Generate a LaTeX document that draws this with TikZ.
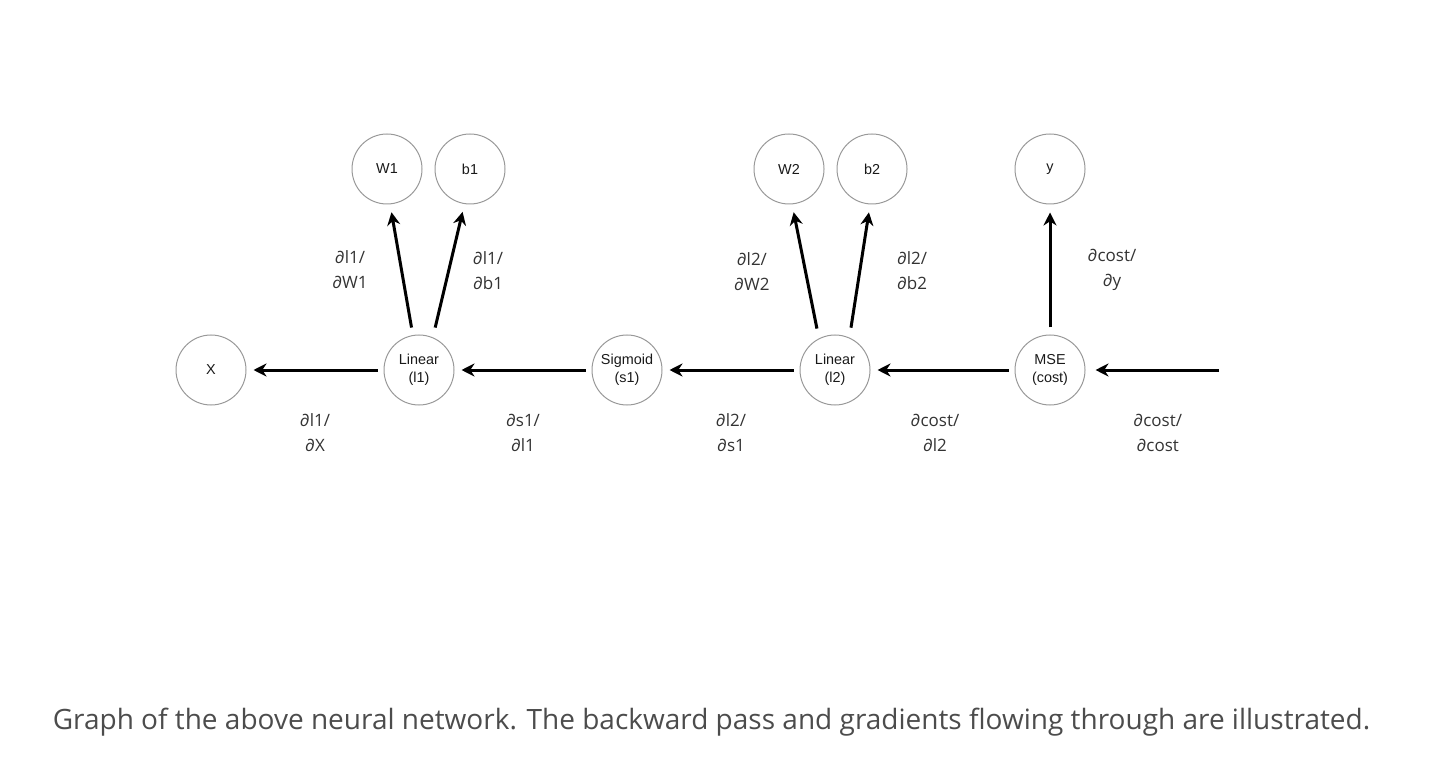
\documentclass[tikz,border=0pt]{standalone}
\usepackage{fontspec}
\setmainfont{Open Sans}
\newfontfamily\helv{Liberation Sans}
\usetikzlibrary{arrows.meta,positioning}

\begin{document}
\begin{tikzpicture}[x=0.5pt,y=-0.5pt,node distance=104pt,on grid,
  op/.style={circle,draw=black!40,line width=0.5pt,minimum size=35pt,inner sep=0pt,align=center,text=black!90,font=\helv\fontsize{7.2}{9}\selectfont},
  back/.style={-{Stealth[length=6.5pt,width=6.5pt]},line width=1.5pt,shorten <=3pt,shorten >=3.5pt},
  up/.style={shorten <=5pt,shorten >=4pt},
  grad/.style={align=center,text=black!80,font=\fontsize{8.5}{12.5}\selectfont}]
\useasboundingbox (0,0) rectangle (1444,780);
\node[op] (X) at (211,370) {X};
\node[op] (l1) [right=of X] {Linear\\(l1)};
\node[op] (s1) [right=of l1] {Sigmoid\\(s1)};
\node[op] (l2) [right=of s1] {Linear\\(l2)};
\node[op] (mse) [right=107.5pt of l2] {MSE\\(cost)};
\node[op] (W1) [above left=100.5pt and 16pt of l1] {W1};
\node[op] (b1) [above right=100.5pt and 25.5pt of l1] {b1};
\node[op] (W2) [above left=100.5pt and 23pt of l2] {W2};
\node[op] (b2) [above right=100.5pt and 18.5pt of l2] {b2};
\node[op] (y) [above=100.5pt of mse] {y};
\coordinate[right=84.5pt of mse] (start);
\path[back]
  (start) edge [shorten <=0pt,shorten >=5pt] node[grad,yshift=-31.5pt,xshift=2.75pt] {∂cost/\\∂cost} (mse)
  (mse) edge node[grad,yshift=-31.5pt,xshift=-3.75pt] {∂cost/\\∂l2} (l2)
  (l2) edge node[grad,yshift=-31.5pt] {∂l2/\\∂s1} (s1)
  (s1) edge node[grad,yshift=-31.5pt] {∂s1/\\∂l1} (l1)
  (l1) edge node[grad,yshift=-31.5pt] {∂l1/\\∂X} (X)
  (mse.90) edge [up,shorten <=3.5pt] node[grad,xshift=31pt] {∂cost/\\∂y} (y.-90)
  (l2.117) edge [up] node[grad,xshift=-26.8pt] {∂l2/\\∂W2} (W2.-85)
  (l2.66) edge [up] node[grad,xshift=26.15pt] {∂l2/\\∂b2} (b2.-93)
  (l1.100) edge [up,shorten <=3.8pt] node[grad,xshift=-25.75pt] {∂l1/\\∂W1} (W1.-85)
  (l1.67) edge [up] node[grad,xshift=19.7pt] {∂l1/\\∂b1} (b1.-99)
  ;
\node[text=black!70,font=\fontsize{14}{17}\selectfont] (caption) at (711.5,722) {Graph of the above neural network. The backward pass and gradients flowing through are illustrated.};
\end{tikzpicture}
\end{document}
